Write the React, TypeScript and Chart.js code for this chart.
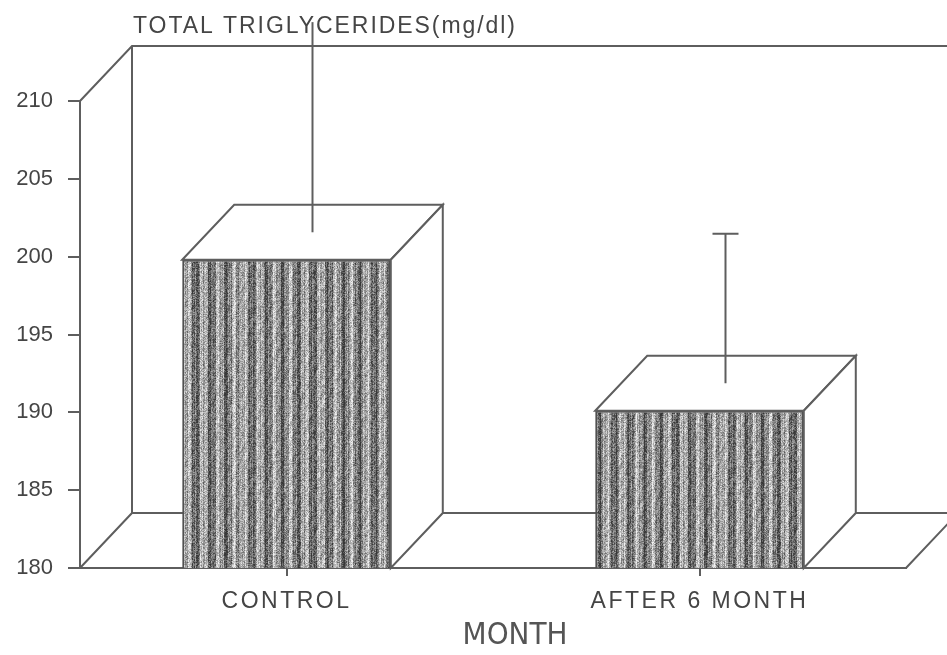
import React, { useEffect, useRef } from 'react';
import { Chart, registerables } from 'chart.js';

Chart.register(...registerables);

const categories = ['CONTROL', 'AFTER 6 MONTH'];
const meanValues = [199.8, 190.1];
const errorValues = [13.5, 9.6];
const yTicks = [180, 185, 190, 195, 200, 205, 210];
const chartTitle = 'TOTAL TRIGLYCERIDES(mg/dl)';
const axisTitle = 'MONTH';

const DX = 52;
const DY = -55;
const LINE = '#5e5e5e';
const TEXT = '#454545';
const FONT = '"Liberation Sans", Arial, sans-serif';
const NARROW = '"DejaVu Sans Condensed", "Liberation Sans Narrow", "Liberation Sans", sans-serif';

function fract(v: number) {
  return v - Math.floor(v);
}

function makePattern(ctx: CanvasRenderingContext2D) {
  const w = 240;
  const h = 160;
  const c = document.createElement('canvas');
  c.width = w;
  c.height = h;
  const g = c.getContext('2d') as CanvasRenderingContext2D;
  const img = g.createImageData(w, h);
  for (let x = 0; x < w; x++) {
    const col =
      140 +
      45 * Math.sin(x * 0.41) +
      30 * Math.sin(x * 1.13 + 1.3) +
      20 * Math.sin(x * 2.71 + 0.4);
    for (let y = 0; y < h; y++) {
      const hsh = fract(Math.sin(x * 12.9898 + y * 78.233) * 43758.5453);
      let v = col + (hsh - 0.5) * 90 + 10 * Math.sin(y * 0.31 + x * 0.7);
      v = Math.max(55, Math.min(240, v));
      const i = (y * w + x) * 4;
      img.data[i] = v;
      img.data[i + 1] = v;
      img.data[i + 2] = v;
      img.data[i + 3] = 255;
    }
  }
  g.putImageData(img, 0, 0);
  return ctx.createPattern(c, 'repeat') as CanvasPattern;
}

const threeD = {
  id: 'threeD',
  beforeDraw(chart: any) {
    const { ctx, chartArea: a } = chart;
    const xs = chart.scales.x;
    if (xs && !xs._lsWrapped) {
      const origLabels = xs.drawLabels.bind(xs);
      xs.drawLabels = (ca: any) => {
        ctx.save();
        ctx.letterSpacing = '2.5px';
        origLabels(ca);
        ctx.restore();
      };
      const origTitle = xs.drawTitle.bind(xs);
      xs.drawTitle = () => {
        ctx.save();
        ctx.translate(22, 0);
        origTitle();
        ctx.restore();
      };
      xs._lsWrapped = true;
    }
    ctx.save();
    ctx.fillStyle = '#ffffff';
    ctx.fillRect(0, 0, chart.width, chart.height);
    ctx.strokeStyle = LINE;
    ctx.lineWidth = 2;
    ctx.beginPath();
    ctx.moveTo(a.left, a.top);
    ctx.lineTo(a.left + DX, a.top + DY);
    ctx.lineTo(a.right + DX, a.top + DY);
    ctx.moveTo(a.left + DX, a.top + DY);
    ctx.lineTo(a.left + DX, a.bottom + DY);
    ctx.lineTo(a.right + DX, a.bottom + DY);
    ctx.moveTo(a.left, a.bottom);
    ctx.lineTo(a.left + DX, a.bottom + DY);
    ctx.moveTo(a.right, a.bottom);
    ctx.lineTo(a.right + DX, a.bottom + DY);
    ctx.stroke();
    ctx.restore();
  },
  afterDatasetsDraw(chart: any) {
    const { ctx, chartArea: a } = chart;
    const meta = chart.getDatasetMeta(0);
    const ys = chart.scales.y;
    ctx.save();
    ctx.strokeStyle = LINE;
    ctx.lineWidth = 2;
    meta.data.forEach((bar: any, i: number) => {
      const l = bar.x - bar.width / 2;
      const r = bar.x + bar.width / 2;
      const t = bar.y;
      const b = a.bottom;
      ctx.fillStyle = '#ffffff';
      ctx.beginPath();
      ctx.moveTo(l, t);
      ctx.lineTo(l + DX, t + DY);
      ctx.lineTo(r + DX, t + DY);
      ctx.lineTo(r, t);
      ctx.closePath();
      ctx.fill();
      ctx.stroke();
      ctx.beginPath();
      ctx.moveTo(r, t);
      ctx.lineTo(r + DX, t + DY);
      ctx.lineTo(r + DX, b + DY);
      ctx.lineTo(r, b);
      ctx.closePath();
      ctx.fill();
      ctx.stroke();
      const ex = bar.x + DX / 2;
      const y0 = t + DY / 2;
      const y1 = ys.getPixelForValue(meanValues[i] + errorValues[i]) + DY / 2;
      ctx.beginPath();
      ctx.moveTo(ex, y0);
      ctx.lineTo(ex, y1);
      if (meanValues[i] + errorValues[i] <= ys.max) {
        ctx.moveTo(ex - 13, y1);
        ctx.lineTo(ex + 13, y1);
      }
      ctx.stroke();
    });
    ctx.restore();
  },
  afterDraw(chart: any) {
    const { ctx, chartArea: a } = chart;
    ctx.save();
    ctx.letterSpacing = '0px';
    ctx.font = `23px ${FONT}`;
    ctx.fillStyle = TEXT;
    ctx.textAlign = 'left';
    ctx.textBaseline = 'alphabetic';
    const w = ctx.measureText(chartTitle).width;
    const target = 382;
    const sp = Math.max(0, (target - w) / (chartTitle.length - 1));
    ctx.letterSpacing = `${sp}px`;
    ctx.fillText(chartTitle, a.left + DX + 1, 33);
    ctx.restore();
  },
};

export default function App() {
  const ref = useRef<HTMLCanvasElement | null>(null);
  useEffect(() => {
    const canvas = ref.current;
    if (!canvas) return;
    const ctx = canvas.getContext('2d') as CanvasRenderingContext2D;
    const pattern = makePattern(ctx);
    const chart = new Chart(canvas, {
      type: 'bar',
      data: {
        labels: categories,
        datasets: [
          {
            data: meanValues,
            backgroundColor: pattern as any,
            borderColor: '#505050',
            borderWidth: 2,
            borderSkipped: false,
            barPercentage: 0.505,
            categoryPercentage: 1,
          },
        ],
      },
      options: {
        responsive: false,
        animation: false,
        layout: { padding: { top: 101, right: 41, left: 0, bottom: 0 } },
        plugins: {
          legend: { display: false },
          tooltip: { enabled: false },
          title: { display: false },
        },
        scales: {
          x: {
            grid: {
              offset: false,
              drawOnChartArea: false,
              drawTicks: true,
              tickLength: 8,
              color: LINE,
              lineWidth: 2,
            },
            border: { display: true, color: LINE, width: 2 },
            ticks: {
              color: TEXT,
              font: { family: FONT, size: 23 },
              padding: 12,
              maxRotation: 0,
              autoSkip: false,
            },
            title: {
              display: true,
              text: axisTitle,
              color: '#555555',
              font: { family: NARROW, size: 31 },
              padding: { top: 0, bottom: 0 },
            },
            afterFit: (s: any) => {
              s.height = 87;
            },
          },
          y: {
            min: 180,
            max: 210,
            afterBuildTicks: (s: any) => {
              s.ticks = yTicks.map((v) => ({ value: v }));
            },
            grid: {
              drawOnChartArea: false,
              tickLength: 12,
              color: LINE,
              lineWidth: 2,
            },
            border: { display: true, color: LINE, width: 2 },
            ticks: {
              color: TEXT,
              font: { family: FONT, size: 22 },
              padding: 15,
            },
            afterFit: (s: any) => {
              s.width = 80;
            },
          },
        },
      },
      plugins: [threeD],
    });
    return () => chart.destroy();
  }, []);
  return (
    <div style={{ position: 'absolute', left: 0, top: 0, width: 947, height: 655, background: '#fff' }}>
      <canvas ref={ref} width={947} height={655} style={{ display: 'block', width: 947, height: 655 }} />
    </div>
  );
}
